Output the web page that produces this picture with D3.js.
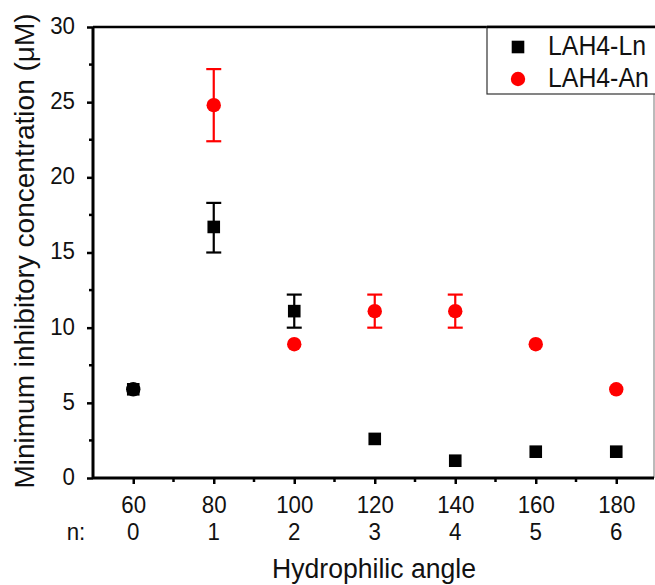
<!DOCTYPE html>
<html>
<head>
<meta charset="utf-8">
<script src="https://cdn.jsdelivr.net/npm/d3@7"></script>
<style>
  body { margin: 0; background: #fff; }
  text { font-family: "Liberation Sans", Arial, sans-serif; fill: #111; }
</style>
</head>
<body>
<div id="chart"></div>
<script>
// hydrophilic angle and number n for each peptide
var angles = [60, 80, 100, 120, 140, 160, 180];
var nLabels = ['0', '1', '2', '3', '4', '5', '6'];

// LAH4-Ln (black squares)
var lnValues = [5.9, 16.7, 11.1, 2.6, 1.15, 1.75, 1.75];
var lnErrLow = [null, 15.0, 10.0, null, null, null, null];
var lnErrHigh = [null, 18.3, 12.2, null, null, null, null];

// LAH4-An (red circles)
var anValues = [5.9, 24.8, 8.9, 11.1, 11.1, 8.9, 5.9];
var anErrLow = [null, 22.4, null, 10.0, 10.0, null, null];
var anErrHigh = [null, 27.2, null, 12.2, 12.2, null, null];

var yTicks = [0, 5, 10, 15, 20, 25, 30];

var width = 655, height = 585;
var margin = { top: 27, left: 93, bottom: 107 };
var squeeze = 0.91; // the original lettering is a bit narrow

var svg = d3.select('#chart').append('svg')
    .attr('width', width)
    .attr('height', height);

var x = d3.scaleLinear()
    .domain([50, 190])
    .range([margin.left, margin.left + 140 * 4.025]);

var y = d3.scaleLinear()
    .domain([0, 30])
    .range([height - margin.bottom, margin.top]);

var plotRight = 654;

// narrow text placed at (tx, ty)
function label(parent, tx, ty, size, anchor, str, sx) {
  return parent.append('text')
      .attr('transform', 'translate(' + tx + ',' + ty + ') scale(' + (sx || squeeze) + ',1)')
      .attr('text-anchor', anchor)
      .style('font-size', size + 'px')
      .text(str);
}

// frame: top black line, thin grey right line
svg.append('line')
    .attr('x1', margin.left).attr('x2', width)
    .attr('y1', y(30)).attr('y2', y(30))
    .attr('stroke', '#000').attr('stroke-width', 2.5);
svg.append('line')
    .attr('x1', plotRight).attr('x2', plotRight)
    .attr('y1', y(30)).attr('y2', y(0))
    .attr('stroke', '#777').attr('stroke-width', 1);

// x axis
var xAxis = d3.axisBottom(x)
    .tickValues(angles)
    .tickSize(6)
    .tickFormat(d3.format('d'));
var gx = svg.append('g')
    .attr('transform', 'translate(0,' + y(0) + ')')
    .call(xAxis);
gx.select('.domain').attr('stroke-width', 3).attr('d', 'M' + margin.left + ',0H' + plotRight);
gx.selectAll('.tick line').attr('stroke-width', 2.5);
gx.selectAll('.tick text')
    .attr('dy', null)
    .attr('y', 0)
    .attr('transform', 'translate(0,35) scale(' + squeeze + ',1)')
    .style('font-size', '24.5px')
    .attr('fill', '#111');

// minor x ticks
gx.selectAll('.minor')
    .data([70, 90, 110, 130, 150, 170])
    .enter().append('line')
    .attr('class', 'minor')
    .attr('x1', function(d) { return x(d); })
    .attr('x2', function(d) { return x(d); })
    .attr('y1', 0).attr('y2', 4)
    .attr('stroke', '#000').attr('stroke-width', 2.5);

// n row
nLabels.forEach(function(d, i) {
  label(svg, x(angles[i]), y(0) + 62, 24.5, 'middle', d);
});
label(svg, 76, y(0) + 62, 24.5, 'middle', 'n:');

// y axis
var yAxis = d3.axisLeft(y)
    .tickValues(yTicks)
    .tickSize(6);
var gy = svg.append('g')
    .attr('transform', 'translate(' + margin.left + ',0)')
    .call(yAxis);
gy.select('.domain').attr('stroke-width', 3).attr('d', 'M0,' + y(30) + 'V' + y(0));
gy.selectAll('.tick line').attr('stroke-width', 2.5);
gy.selectAll('.tick text')
    .attr('x', 0)
    .attr('dy', '0.26em')
    .attr('transform', 'translate(-18,0) scale(' + squeeze + ',1)')
    .style('font-size', '24.5px')
    .attr('fill', '#111');

gy.selectAll('.minor')
    .data([2.5, 7.5, 12.5, 17.5, 22.5, 27.5])
    .enter().append('line')
    .attr('class', 'minor')
    .attr('x1', 0).attr('x2', -4)
    .attr('y1', function(d) { return y(d); })
    .attr('y2', function(d) { return y(d); })
    .attr('stroke', '#000').attr('stroke-width', 2.5);

// axis titles
label(svg, 374, 578, 28, 'middle', 'Hydrophilic angle', 0.95);

svg.append('text')
    .attr('transform', 'translate(34,251) rotate(-90)')
    .attr('text-anchor', 'middle')
    .style('font-size', '28px')
    .text('Minimum inhibitory concentration (\u03BCM)');

// error bars
function drawErrors(cls, lows, highs, color) {
  var rows = angles.map(function(a, i) { return { a: a, lo: lows[i], hi: highs[i] }; })
      .filter(function(d) { return d.lo !== null; });
  var g = svg.append('g').attr('class', cls)
      .attr('stroke', color).attr('stroke-width', 2.2);
  g.selectAll('.v').data(rows).enter().append('line')
      .attr('x1', function(d) { return x(d.a); }).attr('x2', function(d) { return x(d.a); })
      .attr('y1', function(d) { return y(d.lo); }).attr('y2', function(d) { return y(d.hi); });
  g.selectAll('.lo').data(rows).enter().append('line')
      .attr('x1', function(d) { return x(d.a) - 7.5; }).attr('x2', function(d) { return x(d.a) + 7.5; })
      .attr('y1', function(d) { return y(d.lo); }).attr('y2', function(d) { return y(d.lo); });
  g.selectAll('.hi').data(rows).enter().append('line')
      .attr('x1', function(d) { return x(d.a) - 7.5; }).attr('x2', function(d) { return x(d.a) + 7.5; })
      .attr('y1', function(d) { return y(d.hi); }).attr('y2', function(d) { return y(d.hi); });
}

drawErrors('err-ln', lnErrLow, lnErrHigh, '#000');
drawErrors('err-an', anErrLow, anErrHigh, '#f00');

// An circles; where they sit on an Ln point the overlap shows black
svg.append('g').selectAll('circle')
    .data(anValues)
    .enter().append('circle')
    .attr('cx', function(d, i) { return x(angles[i]); })
    .attr('cy', function(d) { return y(d); })
    .attr('r', 7.2)
    .attr('fill', function(d, i) { return d === lnValues[i] ? '#000' : '#f00'; });

// Ln squares
svg.append('g').selectAll('rect')
    .data(lnValues)
    .enter().append('rect')
    .attr('x', function(d, i) { return x(angles[i]) - 6.3; })
    .attr('y', function(d) { return y(d) - 6.3; })
    .attr('width', 12.6).attr('height', 12.6)
    .attr('fill', '#000');

// legend
var legend = svg.append('g');
legend.append('rect')
    .attr('x', 487).attr('y', y(30))
    .attr('width', 175).attr('height', 67)
    .attr('fill', '#fff').attr('stroke', '#333').attr('stroke-width', 1.2);
legend.append('line')
    .attr('x1', 487).attr('x2', width)
    .attr('y1', y(30)).attr('y2', y(30))
    .attr('stroke', '#000').attr('stroke-width', 2.5);
legend.append('rect')
    .attr('x', 518 - 6.3).attr('y', 47 - 6.3)
    .attr('width', 12.6).attr('height', 12.6).attr('fill', '#000');
legend.append('circle')
    .attr('cx', 518).attr('cy', 79).attr('r', 7.2).attr('fill', '#f00');
label(legend, 548, 55, 27, 'start', 'LAH4-Ln', 0.92);
label(legend, 548, 87, 27, 'start', 'LAH4-An', 0.92);
</script>
</body>
</html>
